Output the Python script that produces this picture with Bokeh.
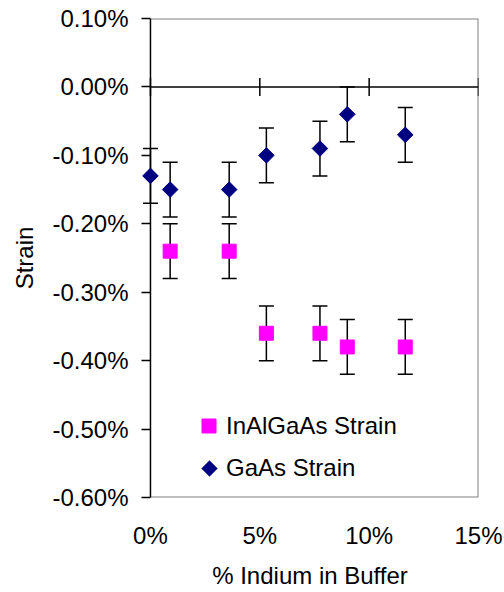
import math
from bokeh.plotting import figure
from bokeh.models import (ColumnDataSource, Range1d, FixedTicker, PrintfTickFormatter,
                          Whisker, TeeHead, Legend, LegendItem, PolyAnnotation)
from bokeh.embed import file_html
from bokeh.resources import INLINE

# ---- data (values in %) ----
x_inalgaas = [0.9, 3.6, 5.3, 7.75, 9.0, 11.65]
y_inalgaas = [-0.24, -0.24, -0.36, -0.36, -0.38, -0.38]
err_inalgaas = [0.04, 0.04, 0.04, 0.04, 0.04, 0.04]

x_gaas = [0.0, 0.9, 3.6, 5.3, 7.75, 9.0, 11.65]
y_gaas = [-0.13, -0.15, -0.15, -0.10, -0.09, -0.04, -0.07]
err_gaas = [0.04, 0.04, 0.04, 0.04, 0.04, 0.04, 0.04]

x_ticks = [0, 5, 10, 15]
y_ticks = [-0.6, -0.5, -0.4, -0.3, -0.2, -0.1, 0.0, 0.1]

FONT = "Liberation Sans"
MAGENTA = "#FF00FF"
NAVY = "#000080"
GRAY = "#808080"

x0, x1 = x_ticks[0], x_ticks[-1]
y0, y1 = y_ticks[0], y_ticks[-1]

src_in = ColumnDataSource(dict(
    x=x_inalgaas, y=y_inalgaas,
    lo=[v - e for v, e in zip(y_inalgaas, err_inalgaas)],
    hi=[v + e for v, e in zip(y_inalgaas, err_inalgaas)]))
src_ga = ColumnDataSource(dict(
    x=x_gaas, y=y_gaas,
    lo=[v - e for v, e in zip(y_gaas, err_gaas)],
    hi=[v + e for v, e in zip(y_gaas, err_gaas)]))

# a small pad left of 0% so the first point is not clipped; the y axis ticks
# are drawn inward across that pad so they look like outward ticks at x = 0
p = figure(width=504, height=592, output_backend="svg", toolbar_location=None,
           x_range=Range1d(x0 - 0.41, x1), y_range=Range1d(y0, y1),
           min_border_left=141, min_border_right=26, min_border_top=18,
           min_border_bottom=95)
p.grid.visible = False
p.outline_line_color = None
p.background_fill_color = "white"
p.border_fill_color = "white"

# y axis
ya = p.yaxis[0]
ya.ticker = FixedTicker(ticks=y_ticks)
ya.formatter = PrintfTickFormatter(format="%.2f%%")
ya.axis_line_color = None
ya.major_tick_in = 9
ya.major_tick_out = 0
ya.minor_tick_line_color = None
ya.major_tick_line_color = "black"
ya.major_tick_line_width = 1.5
ya.major_label_text_font = FONT
ya.major_label_text_font_size = "24px"
ya.major_label_text_color = "black"
ya.major_label_standoff = 13
ya.axis_label = "Strain"
ya.axis_label_text_font = FONT
ya.axis_label_text_font_size = "24px"
ya.axis_label_text_font_style = "normal"
ya.axis_label_text_color = "black"
ya.axis_label_standoff = 11

# x axis (labels only at bottom; the axis line is drawn at y = 0)
xa = p.xaxis[0]
xa.ticker = FixedTicker(ticks=x_ticks)
xa.formatter = PrintfTickFormatter(format="%d%%")
xa.axis_line_color = None
xa.major_tick_line_color = None
xa.minor_tick_line_color = None
xa.major_label_text_font = FONT
xa.major_label_text_font_size = "24px"
xa.major_label_text_color = "black"
xa.major_label_standoff = 18
xa.axis_label = "% Indium in Buffer"
xa.axis_label_text_font = FONT
xa.axis_label_text_font_size = "24px"
xa.axis_label_text_font_style = "normal"
xa.axis_label_text_color = "black"
xa.axis_label_standoff = 10

# plot-area border: top, right, bottom in gray
p.multi_line(xs=[[x0, x1, x1, x0]], ys=[[y1, y1, y0, y0]],
             line_color=GRAY, line_width=2)

# y axis line at 0%
p.segment(x0=[x0], x1=[x0], y0=[y0], y1=[y1], line_color="black", line_width=1.5)

# horizontal axis line at y = 0, with crossing ticks
p.segment(x0=[x0], x1=[x1], y0=[0], y1=[0], line_color="black", line_width=1.5)
p.scatter(x=x_ticks, y=[0] * len(x_ticks), marker="dash", angle=math.pi / 2,
          size=18, line_color="black", line_width=1.5)

# error bars
for src in (src_in, src_ga):
    w = Whisker(source=src, base="x", upper="hi", lower="lo",
                line_color="black", line_width=1.5, level="underlay",
                upper_head=TeeHead(size=15, line_color="black", line_width=1.5),
                lower_head=TeeHead(size=15, line_color="black", line_width=1.5))
    p.add_layout(w)

r_in = p.scatter("x", "y", source=src_in, marker="square", size=14,
                 fill_color=MAGENTA, line_color=MAGENTA)
r_ga = p.scatter("x", "y", source=src_ga, marker="square", angle=math.pi / 4,
                 size=11, fill_color=NAVY, line_color=NAVY)

# invisible stand-in for the GaAs legend key (the legend ignores marker angle)
r_ga_key = p.scatter(x=[], y=[], marker="square", size=1, fill_alpha=0, line_alpha=0)

common = dict(padding=0, spacing=0, label_text_font=FONT, label_text_font_size="24px",
              label_text_color="black", border_line_color=None,
              background_fill_alpha=0)
leg1 = Legend(items=[LegendItem(label="InAlGaAs Strain", renderers=[r_in])],
              location=(50, 54), glyph_width=35, glyph_height=35,
              label_standoff=0, **common)
leg2 = Legend(items=[LegendItem(label="GaAs Strain", renderers=[r_ga_key])],
              location=(54, 15), glyph_width=28, glyph_height=28,
              label_standoff=3, **common)
p.add_layout(leg1)
p.add_layout(leg2)

# diamond legend key, in canvas pixels
kx, ky, kr = 209, 468, 8
p.add_layout(PolyAnnotation(xs=[kx, kx + kr, kx, kx - kr], ys=[ky - kr, ky, ky + kr, ky],
                            xs_units="canvas", ys_units="canvas",
                            fill_color=NAVY, fill_alpha=1, line_color=NAVY))

open("out.html", "w").write(file_html(p, INLINE))
